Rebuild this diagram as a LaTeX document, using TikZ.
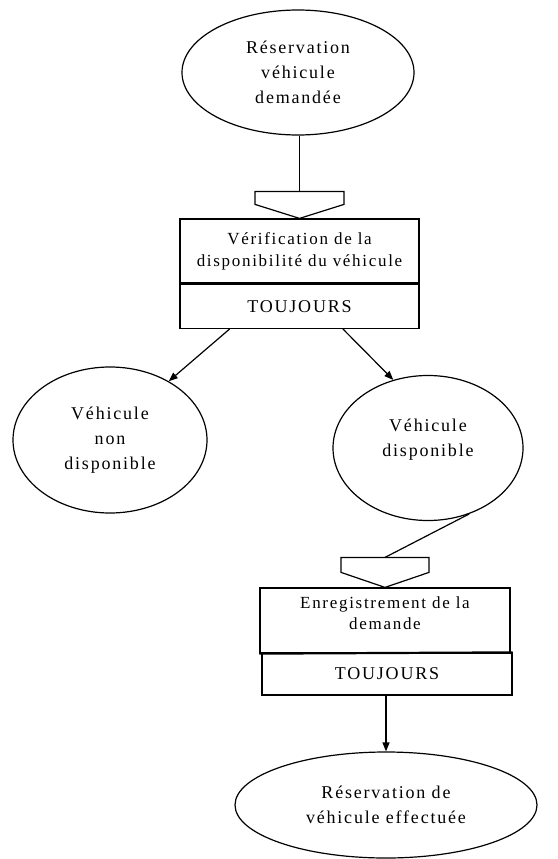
\documentclass[tikz,border=0pt]{standalone}
\usepackage{fontspec}
\setmainfont{Liberation Serif}[LetterSpace=10]
\usetikzlibrary{shapes.geometric,arrows.meta,calc}
\begin{document}
\begin{tikzpicture}[x=1pt,y=-1pt,
  base/.style={draw=black,line width=1.2pt},
  oval/.style={base,ellipse,inner sep=0pt,align=center,font=\fontsize{18}{25}\selectfont},
  ovaltext/.style={inner sep=0pt,align=center,font=\fontsize{18}{25}\selectfont},
  boxpart/.style={base,rectangle,inner sep=0pt,align=center,font=\fontsize{17}{22}\selectfont},
  always/.style={boxpart,font=\fontsize{18}{22}\selectfont},
  boxtext/.style={inner sep=0pt,align=center,font=\fontsize{17}{21}\selectfont},
  conn/.style={line width=1.2pt},
  arr/.style={conn,-{Triangle[length=9pt,width=7pt]}},
  pent/.style={line width=1.2pt,fill=white}]
\useasboundingbox (0,0) rectangle (557,859);

% nodes
\node[oval,minimum width=232,minimum height=125] (start) at (298,72.5) {Réservation\\véhicule\\demandée};
\node[boxpart,minimum width=239,minimum height=64] (verif) at (299.5,251) {Vérification de la\\disponibilité du véhicule};
\node[always,minimum width=239,minimum height=44,anchor=north] (verift) at (verif.south) {TOUJOURS};

\node[oval,minimum width=194,minimum height=146] (nondispo) at (110,440) {Véhicule\\non\\disponible};
\node[oval,minimum width=190,minimum height=145] (dispo) at (428,448) {};
\node[ovaltext] (dispot) at (428,440) {Véhicule\\disponible};

\node[base,rectangle,minimum width=250,minimum height=65] (enreg) at (385,620.5) {};
\node[boxtext] (enregt) at (385,613) {Enregistrement de la\\demande};
\node[always,minimum width=250,minimum height=42] (enrtou) at (387,674) {TOUJOURS};

\node[oval,minimum width=302,minimum height=106] (fin) at (386,805) {Réservation de\\véhicule effectuée};

% pentagon connectors
\coordinate (p1top) at ($(verif.north)+(0,-27)$);
\draw[conn] (p1top |- start.south) -- (p1top);
\draw[pent] (p1top) ++(-44.5,0) -- ++(89,0) -- ++(0,13) -- (verif.north) -- ($(p1top)+(-44.5,13)$) -- cycle;

\coordinate (p2top) at ($(enreg.north)+(0,-30)$);
\draw[conn] (dispo.-58.6) -- (p2top);
\draw[pent] (p2top) ++(-44,0) -- ++(88,0) -- ++(0,15) -- (enreg.north) -- ($(p2top)+(-44,15)$) -- cycle;

% thick divider in second box
\draw[line width=2.2pt] (enreg.south west) -- (enrtou.north east);

% arrows
\draw[arr] ($(verift.south west)!0.21!(verift.south east)$) -- (nondispo.45);
\draw[arr] ($(verift.south west)!0.68!(verift.south east)$) -- (dispo.117.2);
\draw[arr] (fin.north |- enrtou.south) -- (fin.north);
\end{tikzpicture}
\end{document}
